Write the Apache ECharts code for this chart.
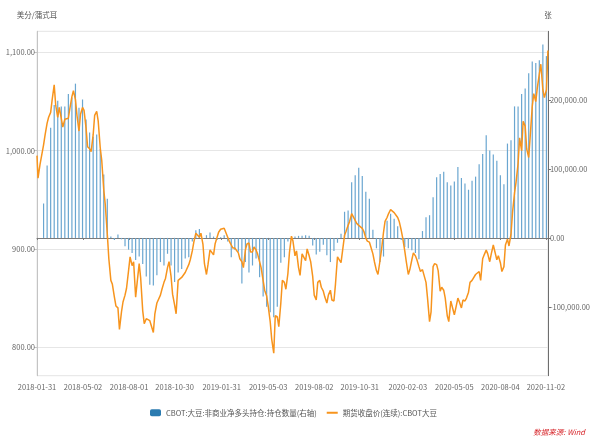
<!DOCTYPE html>
<html>
<head>
<meta charset="utf-8">
<script src="https://cdn.jsdelivr.net/npm/echarts@6/dist/echarts.min.js"></script>
<style>
  html, body { margin: 0; padding: 0; background: #fff; }
  #main { width: 593px; height: 439px; }
</style>
</head>
<body>
<div id="main"></div>
<script>
// CBOT大豆：非商业净多头持仓(右轴) vs 期货收盘价(连续)
const barName = 'CBOT:大豆:非商业净多头持仓:持仓数量(右轴)';
const lineName = '期货收盘价(连续):CBOT大豆';

// x轴标签日期
const xLabelDates = ['2018-01-31', '2018-05-02', '2018-08-01', '2018-10-30', '2019-01-31', '2019-05-03',
  '2019-08-02', '2019-10-31', '2020-02-03', '2020-05-05', '2020-08-04', '2020-11-02'];
const leftTicks = [800, 900, 1000, 1100];
const rightTicks = [-100000, 0, 100000, 200000];

// 持仓周数据(张)
const barDates = [
  '2018-02-13','2018-02-20','2018-02-27','2018-03-06','2018-03-13','2018-03-20','2018-03-27','2018-04-03','2018-04-10','2018-04-17',
  '2018-04-24','2018-05-01','2018-05-08','2018-05-15','2018-05-22','2018-05-29','2018-06-05','2018-06-12','2018-06-19','2018-06-26',
  '2018-07-03','2018-07-10','2018-07-17','2018-07-24','2018-07-31','2018-08-07','2018-08-14','2018-08-21','2018-08-28','2018-09-04',
  '2018-09-11','2018-09-18','2018-09-25','2018-10-02','2018-10-09','2018-10-16','2018-10-23','2018-10-30','2018-11-06','2018-11-13',
  '2018-11-20','2018-11-27','2018-12-04','2018-12-11','2018-12-18','2018-12-25','2019-01-01','2019-01-08','2019-01-15','2019-01-22',
  '2019-01-29','2019-02-05','2019-02-12','2019-02-19','2019-02-26','2019-03-05','2019-03-12','2019-03-19','2019-03-26','2019-04-02',
  '2019-04-09','2019-04-16','2019-04-23','2019-04-30','2019-05-07','2019-05-14','2019-05-21','2019-05-28','2019-06-04','2019-06-11',
  '2019-06-18','2019-06-25','2019-07-02','2019-07-09','2019-07-16','2019-07-23','2019-07-30','2019-08-06','2019-08-13','2019-08-20',
  '2019-08-27','2019-09-03','2019-09-10','2019-09-17','2019-09-24','2019-10-01','2019-10-08','2019-10-15','2019-10-22','2019-10-29',
  '2019-11-05','2019-11-12','2019-11-19','2019-11-26','2019-12-03','2019-12-10','2019-12-17','2019-12-24','2019-12-31','2020-01-07',
  '2020-01-14','2020-01-21','2020-01-28','2020-02-04','2020-02-11','2020-02-18','2020-02-25','2020-03-03','2020-03-10','2020-03-17',
  '2020-03-24','2020-03-31','2020-04-07','2020-04-14','2020-04-21','2020-04-28','2020-05-05','2020-05-12','2020-05-19','2020-05-26',
  '2020-06-02','2020-06-09','2020-06-16','2020-06-23','2020-06-30','2020-07-07','2020-07-14','2020-07-21','2020-07-28','2020-08-04',
  '2020-08-11','2020-08-18','2020-08-25','2020-09-01','2020-09-08','2020-09-15','2020-09-22','2020-09-29','2020-10-06','2020-10-13',
  '2020-10-20','2020-10-27','2020-11-03'
];
const barNet = [
  50000, 105000, 160000, 193000, 199000, 191000, 191000, 209000, 204000, 224000,
  189000, 201000, 172000, 153000, 147000, 150000, 129000, 92000, 57000, 2000,
  -3000, 5000, -2000, -12000, -17000, -22000, -32000, -27000, -38000, -56000,
  -68000, -69000, -54000, -35000, -40000, -23000, -40000, -64000, -50000, -45000,
  -30000, -28000, -5000, 11000, 13000, -1000, 4000, 8000, 2000, -3000,
  1000, 4000, -5000, -28000, -17000, -20000, -66000, -35000, -50000, -40000,
  -30000, -57000, -85000, -100000, -108000, -115000, -100000, -36000, -28000, -5000,
  -3000, 2000, 3000, 3000, 4000, 3000, -11000, -24000, -20000, -10000,
  -25000, -35000, -19000, -7000, 6000, 38000, 40000, 81000, 91000, 102000,
  90000, 67000, 57000, 12000, -15000, -35000, -27000, 25000, 35000, 28000,
  17000, -3000, -13000, -15000, -18000, -22000, -31000, 10000, 30000, 33000,
  59000, 88000, 93000, 96000, 81000, 76000, 82000, 103000, 87000, 79000,
  70000, 83000, 89000, 107000, 122000, 149000, 127000, 121000, 112000, 91000,
  78000, 137000, 142000, 191000, 191000, 209000, 217000, 239000, 256000, 254000,
  258000, 281000, 264000
];

// 收盘价(美分/蒲式耳)
const priceDates = [
  '2018-01-31','2018-02-02','2018-02-06','2018-02-09',
  '2018-02-13','2018-02-16','2018-02-20','2018-02-23','2018-02-27','2018-03-02','2018-03-06','2018-03-09',
  '2018-03-13','2018-03-16','2018-03-20','2018-03-23','2018-03-27','2018-03-30','2018-04-03','2018-04-06',
  '2018-04-10','2018-04-13','2018-04-17','2018-04-20','2018-04-24','2018-04-27','2018-05-01','2018-05-04',
  '2018-05-08','2018-05-11','2018-05-15','2018-05-18','2018-05-22','2018-05-25','2018-05-29','2018-06-01',
  '2018-06-05','2018-06-08','2018-06-12','2018-06-15','2018-06-19','2018-06-22','2018-06-26','2018-06-29',
  '2018-07-03','2018-07-06','2018-07-10','2018-07-13','2018-07-17','2018-07-20','2018-07-24','2018-07-27',
  '2018-07-31','2018-08-03','2018-08-07','2018-08-10','2018-08-14','2018-08-17','2018-08-21','2018-08-24',
  '2018-08-28','2018-08-31','2018-09-04','2018-09-07','2018-09-11','2018-09-14','2018-09-18','2018-09-21',
  '2018-09-25','2018-09-28','2018-10-02','2018-10-05','2018-10-09','2018-10-12','2018-10-16','2018-10-19',
  '2018-10-23','2018-10-26','2018-10-30','2018-11-02','2018-11-06','2018-11-09','2018-11-13','2018-11-16',
  '2018-11-20','2018-11-23','2018-11-27','2018-11-30','2018-12-04','2018-12-07','2018-12-11','2018-12-14',
  '2018-12-18','2018-12-21','2018-12-25','2018-12-28','2019-01-01','2019-01-04','2019-01-08','2019-01-11',
  '2019-01-15','2019-01-18','2019-01-22','2019-01-25','2019-01-29','2019-02-01','2019-02-05','2019-02-08',
  '2019-02-12','2019-02-15','2019-02-19','2019-02-22','2019-02-26','2019-03-01','2019-03-05','2019-03-08',
  '2019-03-12','2019-03-15','2019-03-19','2019-03-22','2019-03-26','2019-03-29','2019-04-02','2019-04-05',
  '2019-04-09','2019-04-12','2019-04-16','2019-04-19','2019-04-23','2019-04-26','2019-04-30','2019-05-03',
  '2019-05-07','2019-05-10','2019-05-14','2019-05-17','2019-05-21','2019-05-24','2019-05-28','2019-05-31',
  '2019-06-04','2019-06-07','2019-06-11','2019-06-14','2019-06-18','2019-06-21','2019-06-25','2019-06-28',
  '2019-07-02','2019-07-05','2019-07-09','2019-07-12','2019-07-16','2019-07-19','2019-07-23','2019-07-26',
  '2019-07-30','2019-08-02','2019-08-06','2019-08-09','2019-08-13','2019-08-16','2019-08-20','2019-08-23',
  '2019-08-27','2019-08-30','2019-09-03','2019-09-06','2019-09-10','2019-09-13','2019-09-17','2019-09-20',
  '2019-09-24','2019-09-27','2019-10-01','2019-10-04','2019-10-08','2019-10-11','2019-10-15','2019-10-18',
  '2019-10-22','2019-10-25','2019-10-29','2019-11-01','2019-11-05','2019-11-08','2019-11-12','2019-11-15',
  '2019-11-19','2019-11-22','2019-11-26','2019-11-29','2019-12-03','2019-12-06','2019-12-10','2019-12-13',
  '2019-12-17','2019-12-20','2019-12-24','2019-12-27','2019-12-31','2020-01-03','2020-01-07','2020-01-10',
  '2020-01-14','2020-01-17','2020-01-21','2020-01-24','2020-01-28','2020-01-31','2020-02-04','2020-02-07',
  '2020-02-11','2020-02-14','2020-02-18','2020-02-21','2020-02-25','2020-02-28','2020-03-03','2020-03-06',
  '2020-03-10','2020-03-13','2020-03-17','2020-03-20','2020-03-24','2020-03-27','2020-03-31','2020-04-03',
  '2020-04-07','2020-04-10','2020-04-14','2020-04-17','2020-04-21','2020-04-24','2020-04-28','2020-05-01',
  '2020-05-05','2020-05-08','2020-05-12','2020-05-15','2020-05-19','2020-05-22','2020-05-26','2020-05-29',
  '2020-06-02','2020-06-05','2020-06-09','2020-06-12','2020-06-16','2020-06-19','2020-06-23','2020-06-26',
  '2020-06-30','2020-07-03','2020-07-07','2020-07-10','2020-07-14','2020-07-17','2020-07-21','2020-07-24',
  '2020-07-28','2020-07-31','2020-08-04','2020-08-07','2020-08-11','2020-08-14','2020-08-18','2020-08-21',
  '2020-08-25','2020-08-28','2020-09-01','2020-09-04','2020-09-08','2020-09-11','2020-09-15','2020-09-18',
  '2020-09-22','2020-09-25','2020-09-29','2020-10-02','2020-10-06','2020-10-09','2020-10-13','2020-10-16',
  '2020-10-20','2020-10-23','2020-10-27','2020-10-30','2020-11-03','2020-11-05','2020-11-06'
];
const priceValues = [
  995, 972, 986, 988,
  1006, 1016, 1028, 1034, 1039, 1052, 1067, 1046,
  1034, 1044, 1033, 1024, 1032, 1034, 1033, 1043,
  1055, 1061, 1052, 1036, 1020, 1037, 1044, 1041,
  1023, 1004, 1002, 999, 1016, 1036, 1040, 1030,
  1003, 990, 960, 945, 915, 890, 868, 864,
  851, 842, 840, 818, 836, 846, 853, 860,
  878, 892, 883, 887, 851, 866, 885, 870,
  837, 824, 829, 830, 827, 829, 815, 834,
  845, 847, 853, 859, 866, 870, 881, 887,
  872, 854, 843, 834, 868, 868, 871, 871,
  876, 877, 884, 889, 898, 907, 916, 916,
  912, 916, 905, 885, 874, 884, 899, 899,
  894, 905, 912, 917, 920, 919, 921, 919,
  912, 908, 904, 901, 901, 899, 896, 890,
  887, 881, 899, 905, 906, 897, 897, 902,
  899, 895, 887, 881, 868, 858, 852, 842,
  826, 808, 794, 832, 831, 821, 845, 868,
  866, 859, 875, 896, 913, 908, 893, 898,
  881, 873, 895, 896, 888, 900, 893, 887,
  872, 853, 848, 866, 868, 861, 857, 851,
  845, 853, 858, 848, 847, 864, 892, 893,
  886, 898, 914, 918, 924, 928, 936, 934,
  929, 926, 924, 922, 921, 918, 911, 908,
  907, 902, 895, 887, 878, 874, 888, 899,
  917, 928, 932, 936, 940, 941, 937, 935,
  932, 928, 919, 911, 898, 887, 874, 879,
  889, 896, 893, 889, 882, 877, 879, 877,
  866, 850, 826, 836, 882, 885, 884, 878,
  857, 861, 858, 850, 832, 826, 847, 845,
  833, 840, 850, 846, 840, 848, 847, 850,
  856, 866, 868, 869, 874, 873, 877, 868,
  890, 894, 899, 895, 887, 895, 904, 902,
  889, 893, 886, 877, 882, 904, 910, 903,
  915, 937, 957, 968, 987, 1013, 1000, 1030,
  1025, 1002, 993, 1015, 1045, 1058, 1050, 1064,
  1078, 1088, 1062, 1054, 1062, 1088, 1102
];

const FONT = '"Noto Sans CJK SC", "Noto Sans", sans-serif';
const toTime = (s) => new Date(s + 'T00:00:00').getTime();
const pad = (n) => (n < 10 ? '0' + n : '' + n);
const dateFmt = (v) => {
  const d = new Date(v);
  return d.getFullYear() + '-' + pad(d.getMonth() + 1) + '-' + pad(d.getDate());
};
const numFmt = (v) => Number(v).toLocaleString('en-US', { minimumFractionDigits: 2, maximumFractionDigits: 2 });
const xTicks = xLabelDates.map(toTime);
const xMin = toTime('2018-01-31');
const xMax = toTime('2020-11-06');

const myChart = echarts.init(document.getElementById('main'));

const option = {
  animation: false,
  backgroundColor: '#fff',
  textStyle: { fontFamily: FONT },
  grid: {
    left: 37,
    right: 39.5,
    top: 31.3,
    bottom: 63.3,
    show: true,
    borderColor: '#e4e4e4',
    borderWidth: 1,
  },
  legend: {
    left: 145,
    top: 404,
    itemWidth: 11,
    itemHeight: 7,
    itemGap: 9,
    textStyle: { fontSize: 7.5, color: '#555', fontFamily: FONT },
    data: [
      { name: barName, icon: 'roundRect', itemStyle: { color: '#2b7bb0' } },
      { name: lineName, itemStyle: { opacity: 0 }, lineStyle: { width: 2 } },
    ],
  },
  xAxis: [
    {
      type: 'value',
      min: xMin,
      max: xMax,
      axisLine: { show: false, onZero: false },
      axisTick: { show: false },
      splitLine: { show: false },
      axisLabel: {
        customValues: xTicks,
        formatter: dateFmt,
        fontSize: 7.5,
        color: '#666',
        margin: 8,
        hideOverlap: false,
      },
    },
    {
      type: 'value',
      min: xMin,
      max: xMax,
      position: 'bottom',
      axisLine: { show: true, onZero: true, onZeroAxisIndex: 1, lineStyle: { color: '#7a7a7a', width: 1 } },
      axisTick: { show: true, customValues: xTicks, length: 2, lineStyle: { color: '#7a7a7a' } },
      axisLabel: { show: false },
      splitLine: { show: false },
    },
  ],
  yAxis: [
    {
      type: 'value',
      position: 'left',
      min: 771,
      max: 1121.5,
      name: '美分/蒲式耳',
      nameLocation: 'end',
      nameGap: 12,
      nameTextStyle: { fontSize: 7.5, color: '#555', fontFamily: FONT },
      axisLine: { show: true, lineStyle: { color: '#c4c4c4' } },
      axisTick: { show: true, length: 3, customValues: leftTicks, lineStyle: { color: '#c4c4c4' } },
      axisLabel: { customValues: leftTicks, formatter: numFmt, fontSize: 7.5, color: '#666', margin: 2 },
      splitLine: { show: true, lineStyle: { color: '#e6e6e6', width: 1 } },
    },
    {
      type: 'value',
      position: 'right',
      min: -200000,
      max: 300000,
      name: '张',
      nameLocation: 'end',
      nameGap: 12,
      nameTextStyle: { fontSize: 7.5, color: '#555', fontFamily: FONT },
      axisLine: { show: true, lineStyle: { color: '#6e6e6e' } },
      axisTick: { show: true, length: 3, customValues: rightTicks, lineStyle: { color: '#6e6e6e' } },
      axisLabel: { customValues: rightTicks, formatter: numFmt, fontSize: 7.5, color: '#666', margin: 2 },
      splitLine: { show: false },
    },
  ],
  graphic: [
    {
      type: 'text',
      right: 8,
      top: 428,
      style: {
        text: '数据来源: Wind',
        fill: '#d7262b',
        font: 'italic 7.5px "Noto Sans CJK SC"',
      },
    },
  ],
  series: [
    {
      name: barName,
      type: 'bar',
      xAxisIndex: 0,
      yAxisIndex: 1,
      barWidth: 1.2,
      itemStyle: { color: '#6aa6d0' },
      data: barDates.map((d, i) => [toTime(d), barNet[i]]),
    },
    {
      name: lineName,
      type: 'line',
      xAxisIndex: 0,
      yAxisIndex: 0,
      symbol: 'none',
      lineStyle: { color: '#f7941d', width: 1.5 },
      itemStyle: { color: '#f7941d' },
      data: priceDates.map((d, i) => [toTime(d), priceValues[i]]),
    },
  ],
};

myChart.setOption(option);
</script>
</body>
</html>
